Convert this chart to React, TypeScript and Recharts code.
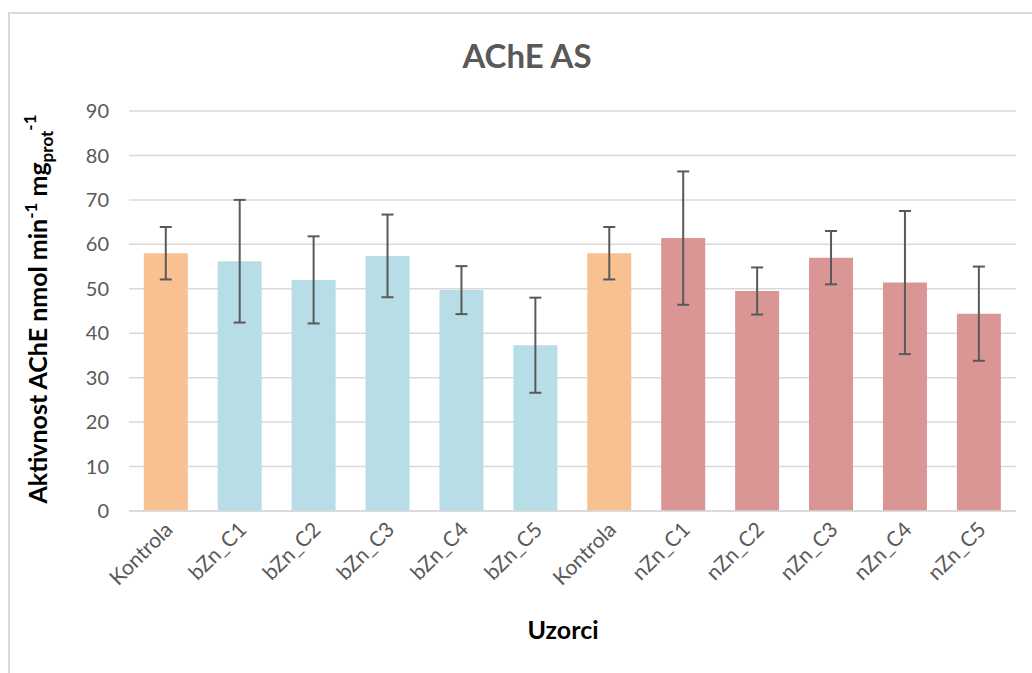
import React from "react";
import { BarChart, Bar, XAxis, YAxis, CartesianGrid, ErrorBar, Cell } from "recharts";

const labels = [
  "Kontrola", "bZn_C1", "bZn_C2", "bZn_C3", "bZn_C4", "bZn_C5",
  "Kontrola", "nZn_C1", "nZn_C2", "nZn_C3", "nZn_C4", "nZn_C5",
];
const values = [58.0, 56.2, 52.0, 57.4, 49.7, 37.3, 58.0, 61.4, 49.5, 57.0, 51.4, 44.4];
const errors = [5.9, 13.8, 9.8, 9.3, 5.4, 10.7, 5.9, 15.0, 5.3, 6.0, 16.1, 10.6];
const groups = ["k", "b", "b", "b", "b", "b", "k", "n", "n", "n", "n", "n"];
const yTicks = [0, 10, 20, 30, 40, 50, 60, 70, 80, 90];

const COLORS: Record<string, string> = {
  k: "#f8c191",
  b: "#b7dde7",
  n: "#d99695",
};

const FONT = "Lato, 'Open Sans', sans-serif";

const data = labels.map((name, i) => ({
  id: `${i}`,
  name,
  value: values[i],
  err: errors[i],
  group: groups[i],
}));

function XTick(props: any) {
  const { x, y, payload } = props;
  return (
    <text
      x={x + 8}
      y={y + 12}
      textAnchor="end"
      fill="#595959"
      fontSize={21}
      fontFamily={FONT}
      transform={`rotate(-45, ${x + 8}, ${y + 12})`}
    >
      {labels[Number(payload.value)]}
    </text>
  );
}

function YLabel() {
  const cx = 47;
  const cy = 309;
  return (
    <text
      x={cx}
      y={cy}
      textAnchor="middle"
      fontSize={25}
      fontWeight="bold"
      fill="#000"
      fontFamily={FONT}
      transform={`rotate(-90, ${cx}, ${cy})`}
    >
      <tspan>Aktivnost AChE nmol min</tspan>
      <tspan fontSize={17} dy={-10}>-1</tspan>
      <tspan dy={10}> mg</tspan>
      <tspan fontSize={17} dy={6}>prot</tspan>
      <tspan fontSize={17} dy={-17}>-1</tspan>
    </text>
  );
}

export default function App() {
  return (
    <div style={{ position: "relative", width: 1032, height: 673, background: "#fff", fontFamily: FONT }}>
      <style>{`body{margin:0}`}</style>
      <div
        style={{
          position: "absolute",
          left: 8,
          top: 12,
          right: -2,
          bottom: -2,
          borderLeft: "2px solid #d9d9d9",
          borderTop: "2px solid #d9d9d9",
        }}
      />
      <div
        style={{
          position: "absolute",
          left: 0,
          width: 1054,
          top: 35,
          textAlign: "center",
          fontSize: 33,
          fontWeight: "bold",
          color: "#595959",
        }}
      >
        AChE AS
      </div>
      <div
        style={{
          position: "absolute",
          left: 0,
          width: 1126,
          top: 614,
          textAlign: "center",
          fontSize: 25,
          fontWeight: "bold",
          color: "#000",
        }}
      >
        Uzorci
      </div>
      <div style={{ position: "absolute", left: 0, top: 0 }}>
        <BarChart
          width={1032}
          height={673}
          data={data}
          margin={{ top: 111, right: 16, bottom: 72, left: 70 }}
          barCategoryGap="20%"
        >
          <CartesianGrid vertical={false} stroke="#d9d9d9" strokeWidth={1.5} />
          <XAxis
            dataKey="id"
            axisLine={{ stroke: "#d9d9d9", strokeWidth: 1.5 }}
            tickLine={false}
            tick={<XTick />}
            interval={0}
            height={90}
          />
          <YAxis
            domain={[0, 90]}
            ticks={yTicks}
            axisLine={false}
            tickLine={false}
            width={59}
            tick={{ fill: "#595959", fontSize: 20, fontFamily: FONT }}
            tickMargin={14}
            label={<YLabel />}
          />
          <Bar dataKey="value" isAnimationActive={false}>
            {data.map((d) => (
              <Cell key={d.id} fill={COLORS[d.group]} />
            ))}
            <ErrorBar dataKey="err" width={6} stroke="#595959" strokeWidth={2} isAnimationActive={false} />
          </Bar>
        </BarChart>
      </div>
    </div>
  );
}
